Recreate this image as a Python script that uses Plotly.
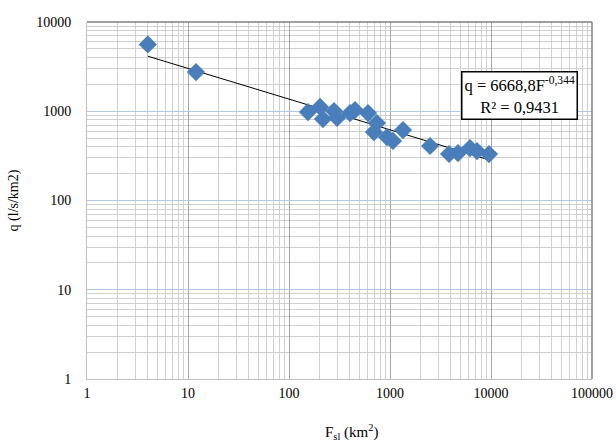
import numpy as np
import plotly.graph_objects as go

# Data
area_km2 = [4, 12, 154, 203, 217, 279, 299, 402, 450, 606, 741, 693,
            933, 1070, 1345, 2490, 3840, 4710, 6190, 7270, 9550]
q_lskm2 = [5600, 2750, 980, 1117, 818, 1006, 840, 955, 1032, 955, 738, 585,
           514, 465, 616, 408, 332, 340, 387, 358, 331]
fit_coef = 6668.8
fit_exp = -0.344
r2_text = "0,9431"
x_ticks = [1, 10, 100, 1000, 10000, 100000]
y_ticks = [1, 10, 100, 1000, 10000]

xf = np.logspace(np.log10(min(area_km2)), np.log10(max(area_km2)), 50)
yf = fit_coef * xf ** fit_exp

font = "Liberation Serif"

fig = go.Figure()
fig.add_trace(go.Scatter(x=xf, y=yf, mode="lines",
                         line=dict(color="black", width=1), hoverinfo="skip"))
fig.add_trace(go.Scatter(x=area_km2, y=q_lskm2, mode="markers",
                         marker=dict(symbol="diamond", size=14, color="#4a7ebb",
                                     line=dict(width=0))))

fig.update_layout(
    width=616, height=442,
    margin=dict(l=87, r=24, t=22, b=63, autoexpand=False),
    paper_bgcolor="white", plot_bgcolor="white",
    showlegend=False,
    font=dict(family=font, size=14, color="black"),
    xaxis=dict(type="log", range=[0, 5], tickvals=x_ticks,
               ticktext=[str(v) for v in x_ticks], automargin=False,
               showgrid=True, gridcolor="#a6a6a6", gridwidth=1,
               minor=dict(dtick="D1", showgrid=True, gridcolor="#d0d0d0", ticks=""),
               showline=True, linecolor="#bfbfbf", mirror=False,
               ticks="", zeroline=False, ticklabelstandoff=1,
               tickfont=dict(family=font, size=14)),
    yaxis=dict(type="log", range=[0, 4], tickvals=y_ticks,
               ticktext=[str(v) for v in y_ticks], automargin=False,
               showgrid=True, gridcolor="#b4c7e7", gridwidth=1,
               minor=dict(dtick="D1", showgrid=True, gridcolor="#d0d0d0", ticks=""),
               showline=True, linecolor="#bfbfbf",
               ticks="", zeroline=False, ticklabelstandoff=12,
               tickfont=dict(family=font, size=14),
               title=dict(text="q (l/s/km2)", standoff=14,
                          font=dict(family=font, size=14))),
)

# darker frame on top and right
fig.add_shape(type="line", xref="paper", yref="paper", x0=0, x1=1, y0=1, y1=1,
              line=dict(color="#808080", width=1.5))
fig.add_shape(type="line", xref="paper", yref="paper", x0=1, x1=1, y0=0, y1=1,
              line=dict(color="#808080", width=1.5))

fig.add_annotation(xref="paper", yref="paper", x=0.525, y=-0.148,
                   text="F<sub>sl</sub> (km<sup>2</sup>)", showarrow=False,
                   font=dict(family=font, size=15), yanchor="middle")

fig.add_annotation(xref="paper", yref="paper", x=0.973, y=0.863,
                   xanchor="right", yanchor="top",
                   text=f"q = {str(fit_coef).replace('.', ',')}F<sup>{str(fit_exp).replace('.', ',')}</sup><br>R² = {r2_text}",
                   showarrow=False, align="center",
                   font=dict(family=font, size=16.5), bgcolor="white",
                   bordercolor="black", borderwidth=1.5, borderpad=2)

fig.write_html("out.html", config={"displayModeBar": False},
               post_script="document.body.style.margin='0';document.body.style.padding='0';")
